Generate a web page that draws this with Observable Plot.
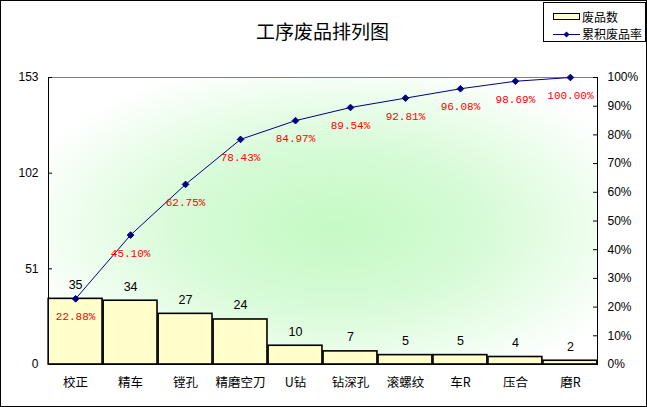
<!DOCTYPE html>
<html>
<head>
<meta charset="utf-8">
<script src="https://cdn.jsdelivr.net/npm/d3@7"></script>
<script src="https://cdn.jsdelivr.net/npm/@observablehq/plot@0.6"></script>
<style>
  html, body { margin: 0; padding: 0; background: #fff; }
  #wrap { position: relative; width: 647px; height: 407px; overflow: hidden; background: #fff; }
  #border { position: absolute; left: 0; top: 0; width: 645px; height: 405px; border: 1px solid #000; pointer-events: none; }
  #title { position: absolute; left: 0; width: 645px; top: 18px; text-align: center; font-family: "Noto Sans CJK SC", sans-serif; font-size: 19px; color: #000; line-height: 26px; }
  #legend { position: absolute; left: 543px; top: 2px; width: 103px; height: 40px; border: 1px solid #000; background: #fff; box-sizing: border-box; font-family: "Noto Sans CJK SC", sans-serif; font-size: 12px; }
  #legend .row { position: absolute; left: 0; height: 16px; line-height: 16px; }
  #legend .lab { position: absolute; left: 38px; white-space: nowrap; }
  #legend svg { position: absolute; left: 9px; top: 0; }
</style>
</head>
<body>
<div id="wrap">
  <div id="chart"></div>
  <div id="title">工序废品排列图</div>
  <div id="legend"></div>
  <div id="border"></div>
</div>
<script>
const categories = ["校正", "精车", "镗孔", "精磨空刀", "U钻", "钻深孔", "滚螺纹", "车R", "压合", "磨R"];
const defects = [35, 34, 27, 24, 10, 7, 5, 5, 4, 2];
const cumPct = [22.88, 45.10, 62.75, 78.43, 84.97, 89.54, 92.81, 96.08, 98.69, 100.00];
const leftTicks = [0, 51, 102, 153];
const pctTicks = [0, 10, 20, 30, 40, 50, 60, 70, 80, 90, 100];
const yMax = 153;
const seriesNames = ["废品数", "累积废品率"];

const data = categories.map((c, i) => ({cat: c, n: defects[i], pct: cumPct[i], yp: cumPct[i] / 100 * yMax}));
const pctAsY = pctTicks.map(p => p / 100 * yMax);

const numFont = "Liberation Sans, Arial, sans-serif";

const chart = Plot.plot({
  width: 647,
  height: 407,
  marginLeft: 48,
  marginRight: 50,
  marginTop: 77,
  marginBottom: 43,
  style: {fontFamily: numFont, fontSize: "12px", background: "transparent", color: "#000"},
  x: {domain: categories, paddingInner: 0.02, paddingOuter: 0.003, round: false},
  y: {domain: [0, yMax]},
  marks: [
    Plot.frame({fill: "url(#bggrad)", stroke: "#000"}),
    Plot.ruleY([yMax], {stroke: "#808080"}),
    Plot.barY(data, {x: "cat", y: "n", fill: "#FFFFCC", stroke: "#000", strokeWidth: 1.6}),
    Plot.text(data, {x: "cat", y: "n", text: d => String(d.n), dy: -14, fontSize: 12.5, fontFamily: numFont, fill: "#000"}),
    Plot.line(data, {x: "cat", y: "yp", stroke: "#000080", strokeWidth: 1}),
    Plot.dot(data, {x: "cat", y: "yp", symbol: "diamond2", r: 3, fill: "#000080", stroke: "#000080", strokeWidth: 1}),
    Plot.text(data, {x: "cat", y: "yp", text: d => d.pct.toFixed(2) + "%", dy: 18, fill: "#FF0000", fontSize: 11, fontFamily: "Liberation Mono, DejaVu Sans Mono, monospace"}),
    Plot.axisX({tickSize: 0, tickPadding: 14, fontSize: 12.5, fontFamily: "Noto Sans CJK SC, sans-serif", label: null}),
    Plot.axisY({ticks: leftTicks, tickSize: 0, tickPadding: 10, label: null, fontSize: 12}),
    Plot.tickY(leftTicks, {y: d => d, insetRight: 545, stroke: "#000"}),
    Plot.axisY(pctAsY, {anchor: "right", tickSize: 0, tickPadding: 10, label: null, fontSize: 12,
      tickFormat: v => Math.round(v / yMax * 100) + "%"}),
    Plot.tickY(pctAsY, {y: d => d, insetLeft: 545, stroke: "#000"})
  ]
});

const svg = d3.select(chart);
const grad = svg.insert("defs", ":first-child")
  .append("radialGradient").attr("id", "bggrad")
  .attr("cx", "52%").attr("cy", "52%").attr("r", "60%");
grad.append("stop").attr("offset", "0%").attr("stop-color", "#C4FAC4");
grad.append("stop").attr("offset", "45%").attr("stop-color", "#D6FBD6");
grad.append("stop").attr("offset", "100%").attr("stop-color", "#FFFFFF");

document.getElementById("chart").appendChild(chart);

// legend
const legend = document.getElementById("legend");
legend.innerHTML = `
  <div class="row" style="top:6px;width:100px">
    <svg width="28" height="16"><rect x="0.5" y="4.5" width="26" height="6" fill="#FFFFCC" stroke="#000"/></svg>
    <span class="lab">${seriesNames[0]}</span>
  </div>
  <div class="row" style="top:23px;width:100px">
    <svg width="28" height="16"><line x1="0" y1="8.5" x2="27" y2="8.5" stroke="#000080"/><path d="M13.5,5.5 L16.5,8.5 L13.5,11.5 L10.5,8.5Z" fill="#000080"/></svg>
    <span class="lab">${seriesNames[1]}</span>
  </div>`;
</script>
</body>
</html>
